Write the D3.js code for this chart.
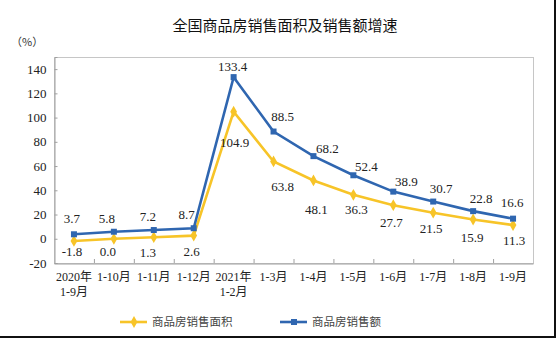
<!DOCTYPE html>
<html><head><meta charset="utf-8">
<script src="https://cdn.jsdelivr.net/npm/d3@7"></script>
<style>body{margin:0;background:#fff}svg{display:block}</style>
</head><body><svg id="c" width="556" height="338"></svg>
<script>
const categories = [["2020年","1-9月"],["1-10月"],["1-11月"],["1-12月"],["2021年","1-2月"],["1-3月"],["1-4月"],["1-5月"],["1-6月"],["1-7月"],["1-8月"],["1-9月"]];
const areaGrowth = [-1.8, 0.0, 1.3, 2.6, 104.9, 63.8, 48.1, 36.3, 27.7, 21.5, 15.9, 11.3];
const salesGrowth = [3.7, 5.8, 7.2, 8.7, 133.4, 88.5, 68.2, 52.4, 38.9, 30.7, 22.8, 16.6];
const yTicks = [-20, 0, 20, 40, 60, 80, 100, 120, 140];
const seriesNames = ["商品房销售面积", "商品房销售额"];
// label nudges (dx, dy) relative to points
const areaNudge = [[-2,11],[-6,13],[-6,15],[-2,16],[1,31],[9,25],[3,29],[3,15],[-2,17],[-2,16],[-1,18],[1,15]];
const salesNudge = [[-2,-16],[-7,-13],[-6,-14],[-7,-14],[-1,-11],[9,-15],[14,-8],[13,-9],[13,-10],[8,-13],[8,-13],[-1,-16]];

const svg = d3.select("#c");
const L = 54, R = 533, T = 57, B = 263;
const x = d3.scaleBand().domain(d3.range(categories.length)).range([L, R]);
const y = d3.scaleLinear().domain([-20, 150]).range([B, T]);
const cx = i => x(i) + x.bandwidth() / 2;
const BLUE = "#2f66b0", YEL = "#f7c428";
const serif = "'Liberation Serif','Times New Roman','Noto Sans CJK SC',serif";

// frame edges
svg.append("rect").attr("x",0).attr("y",336).attr("width",556).attr("height",2).attr("fill","#111");
svg.append("rect").attr("x",554).attr("y",0).attr("width",2).attr("height",338).attr("fill","#111");

// title
svg.append("text").attr("x",285).attr("y",31).attr("text-anchor","middle")
  .attr("font-family","'Noto Sans CJK SC',sans-serif").attr("font-size",15).attr("fill","#111")
  .text("全国商品房销售面积及销售额增速");
svg.append("text").attr("x",11).attr("y",46)
  .attr("font-family","'Noto Sans CJK SC',sans-serif").attr("font-size",11).attr("fill","#333")
  .text("（%）");

// plot box
svg.append("rect").attr("x",L+0.5).attr("y",T+0.5).attr("width",R-L).attr("height",B-T)
  .attr("fill","none").attr("stroke","#c6c6c6").attr("stroke-width",1);

// y axis
const ya = svg.append("g").attr("transform",`translate(${L+0.5},0)`)
  .call(d3.axisLeft(y).tickValues(yTicks).tickSize(-3).tickPadding(8).tickFormat(d=>String(d)));
ya.select(".domain").attr("stroke","#a0a0a0");
ya.selectAll(".tick line").attr("stroke","#a0a0a0");
ya.selectAll("text").attr("font-family",serif).attr("font-size",13).attr("fill","#222");

// x axis
const xa = svg.append("g").attr("transform",`translate(0,${B+0.5})`)
  .call(d3.axisBottom(x).tickSize(0).tickFormat(""));
xa.select(".domain").attr("stroke","#a0a0a0");
const bounds = d3.range(1, categories.length).map(i => x(i));
svg.append("g").selectAll("line").data(bounds).join("line")
  .attr("x1",d=>d+0.5).attr("x2",d=>d+0.5).attr("y1",B-4).attr("y2",B)
  .attr("stroke","#a0a0a0");
const xl = svg.append("g").selectAll("text").data(categories).join("text")
  .attr("x",(d,i)=>cx(i)).attr("y",281).attr("text-anchor","middle")
  .attr("font-family",serif).attr("font-size",12).attr("fill","#222");
xl.each(function(d){
  const t = d3.select(this);
  d.forEach((s,k)=>t.append("tspan").attr("x",t.attr("x")).attr("dy",k?15:0).text(s));
});

// lines
const line = d3.line().x((d,i)=>cx(i)).y(d=>y(d));
svg.append("path").datum(areaGrowth).attr("d",line).attr("fill","none").attr("stroke",YEL).attr("stroke-width",2.6);
svg.append("path").datum(salesGrowth).attr("d",line).attr("fill","none").attr("stroke",BLUE).attr("stroke-width",2.6);

const diamond = d3.symbol().type(d3.symbolDiamond).size(40);
svg.append("g").selectAll("path").data(areaGrowth).join("path")
  .attr("d",diamond).attr("transform",(d,i)=>`translate(${cx(i)},${y(d)})`).attr("fill",YEL);
svg.append("g").selectAll("rect").data(salesGrowth).join("rect")
  .attr("x",(d,i)=>cx(i)-3).attr("y",d=>y(d)-3).attr("width",6).attr("height",6).attr("fill",BLUE);

// labels
const fmt = d => d.toFixed(1);
svg.append("g").selectAll("text").data(areaGrowth).join("text")
  .attr("x",(d,i)=>cx(i)+areaNudge[i][0]).attr("y",(d,i)=>y(d)+areaNudge[i][1]+4.5)
  .attr("text-anchor","middle").attr("font-family",serif).attr("font-size",13).attr("fill","#222")
  .text(d=>fmt(d));
svg.append("g").selectAll("text").data(salesGrowth).join("text")
  .attr("x",(d,i)=>cx(i)+salesNudge[i][0]).attr("y",(d,i)=>y(d)+salesNudge[i][1]+4.5)
  .attr("text-anchor","middle").attr("font-family",serif).attr("font-size",13).attr("fill","#222")
  .text(d=>fmt(d));

// legend
const lg = [{x:120, c:YEL, n:seriesNames[0], m:"d"},{x:280, c:BLUE, n:seriesNames[1], m:"s"}];
lg.forEach(o=>{
  const g = svg.append("g");
  g.append("line").attr("x1",o.x).attr("x2",o.x+27).attr("y1",322).attr("y2",322).attr("stroke",o.c).attr("stroke-width",2.6);
  if(o.m==="d") g.append("path").attr("d",diamond).attr("transform",`translate(${o.x+14},322)`).attr("fill",o.c);
  else g.append("rect").attr("x",o.x+11).attr("y",319).attr("width",6).attr("height",6).attr("fill",o.c);
  g.append("text").attr("x",o.x+32).attr("y",326).attr("font-family","'Noto Sans CJK SC',sans-serif")
    .attr("font-size",11.5).attr("fill","#444").text(o.n);
});
</script></body></html>
